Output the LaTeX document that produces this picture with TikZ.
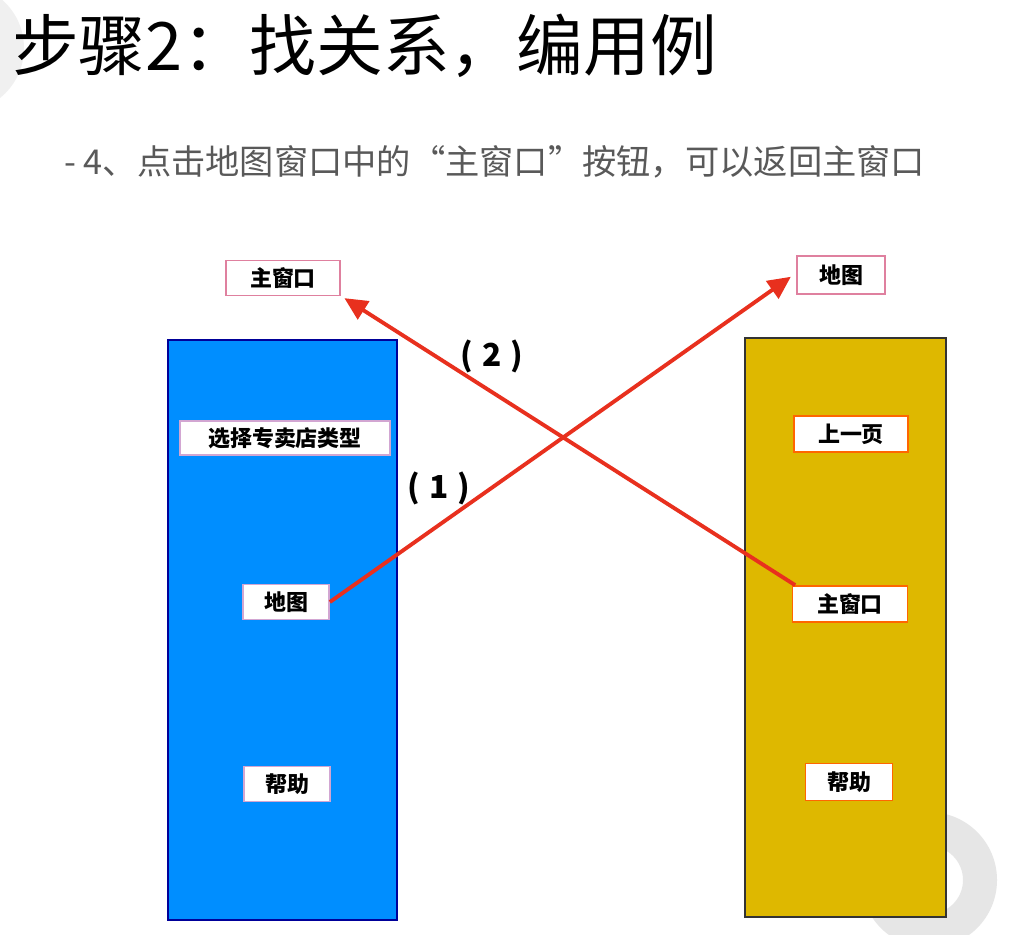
\documentclass[tikz,border=0pt]{standalone}
\usepackage{fontspec}
\usepackage{xcolor}
\setmainfont{Noto Sans CJK SC}
\definecolor{winblue}{RGB}{0,142,255}
\definecolor{mapyellow}{RGB}{222,184,0}
\definecolor{linkred}{RGB}{232,48,30}
\definecolor{ringgrey}{RGB}{230,230,230}
\usetikzlibrary{arrows.meta}

\begin{document}
\begin{tikzpicture}[x=0.02cm, y=-0.02cm]
    \tikzstyle{panel} = [rectangle, draw, line width=0.8pt, inner sep=0pt]
    \tikzstyle{btn} = [rectangle, draw, fill=white, line width=1pt, text centered, inner sep=0pt, font=\bfseries\fontsize{12.5}{13}\selectfont]
    \tikzstyle{link} = [draw=linkred, line width=2.2pt, -{Triangle[length=13pt, width=12pt]}]
    \tikzstyle{steplabel} = [font=\bfseries\fontsize{18}{20}\selectfont]

    \useasboundingbox[fill=white] (0,0) rectangle (1026,934);

    % slide watermark rings
    \fill[ringgrey, even odd rule] (929,880) circle[radius=68] (929,880) circle[radius=34];
    \fill[ringgrey!60, even odd rule] (-40,48) circle[radius=64] (-40,48) circle[radius=40];

    % titles
    \node[anchor=west, font=\fontsize{38}{42}\selectfont] (title) at (6,46) {步骤2：找关系，编用例};
    \node[anchor=west, text=black!65, font=\fontsize{19.5}{22}\selectfont] (subtitle) at (58,162) {- 4、点击地图窗口中的“主窗口”按钮，可以返回主窗口};

    % windows
    \node[panel, fill=winblue, draw=blue!60!black, minimum width=4.58cm, minimum height=11.6cm] (mainwin) at (282.5,630) {};
    \node[panel, fill=mapyellow, draw=black!80, minimum width=4.02cm, minimum height=11.58cm] (mapwin) at (845.5,627.5) {};

    % buttons of the main window
    \node[btn, draw=violet!35, minimum width=4.2cm, minimum height=0.68cm] (lsel) at (285,438) {选择专卖店类型};
    \node[btn, draw=violet!35, minimum width=1.72cm, minimum height=0.7cm] (lmap) at (286,602) {地图};
    \node[btn, draw=violet!35, minimum width=1.72cm, minimum height=0.7cm] (lhelp) at (287,784) {帮助};

    % buttons of the map window
    \node[btn, draw=orange!80!red, minimum width=2.28cm, minimum height=0.72cm] (rprev) at (851,434) {上一页};
    \node[btn, draw=orange!80!red, minimum width=2.3cm, minimum height=0.72cm] (rmain) at (850,604) {主窗口};
    \node[btn, draw=orange!80!red, minimum width=1.74cm, minimum height=0.74cm] (rhelp) at (849,782) {帮助};

    % target windows
    \node[btn, draw=purple!50, minimum width=2.28cm, minimum height=0.7cm] (tmain) at (283,278) {主窗口};
    \node[btn, draw=purple!50, minimum width=1.76cm, minimum height=0.76cm] (tmap) at (841,275) {地图};

    % links
    \draw[link] (lmap.east) -- ([xshift=-3pt, yshift=-1pt]tmap.west);
    \draw[link] ([xshift=2pt]rmain.north west) -- ([xshift=2pt, yshift=-1pt]tmain.south east);

    \node[steplabel] (one) at (439,488) {(\;1\;)};
    \node[steplabel] (two) at (492,356) {(\;2\;)};
\end{tikzpicture}
\end{document}
